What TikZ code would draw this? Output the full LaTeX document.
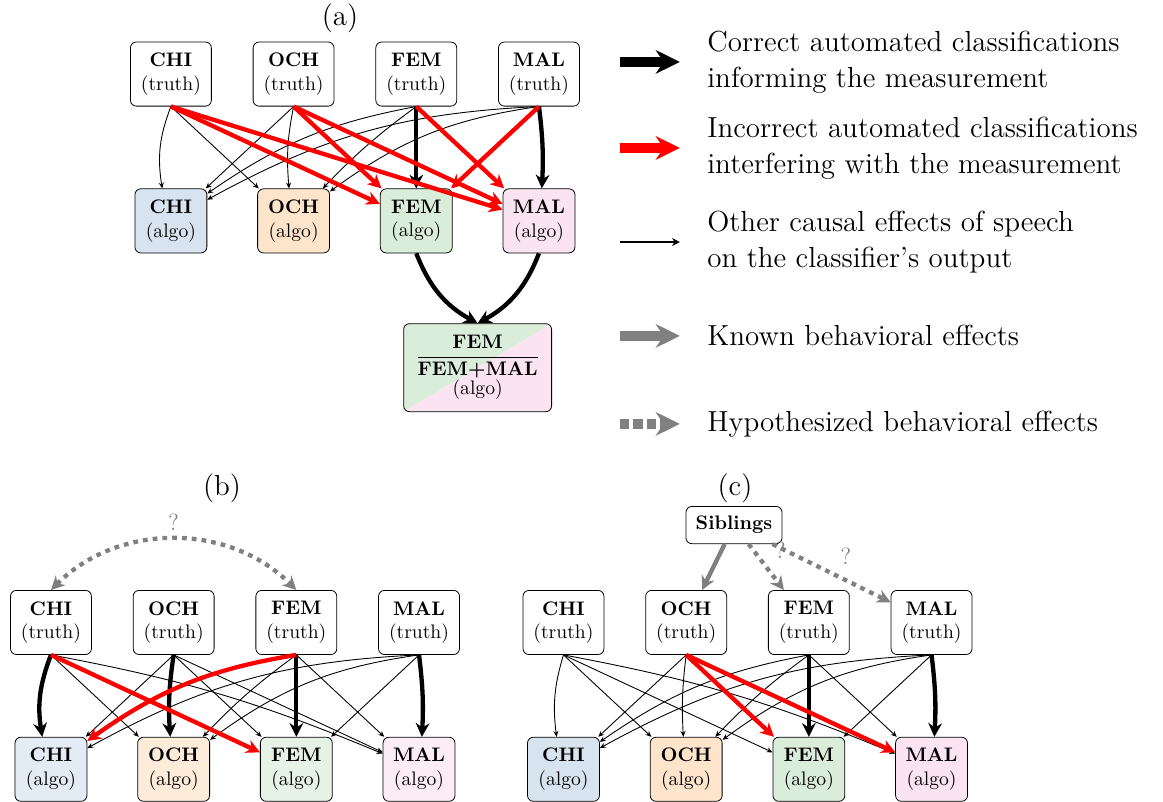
\documentclass[tikz,border=0pt]{standalone}
\usepackage{amsmath}
\usepackage{xcolor}
\usepackage{tikz}
\usetikzlibrary{arrows.meta,positioning,calc}

\definecolor{chicol}{RGB}{215,228,240}
\definecolor{ochcol}{RGB}{253,228,203}
\definecolor{femcol}{RGB}{218,237,218}
\definecolor{malcol}{RGB}{251,228,241}
\definecolor{effgray}{RGB}{128,128,128}
\newcommand{\legfont}{\fontsize{14.8pt}{18.4pt}\selectfont}

\begin{document}
\begin{tikzpicture}[
    truthbox/.style={rectangle, draw, rounded corners=3pt, align=center, inner sep=1pt, minimum width=41.3pt, minimum height=32.7pt},
    algobox/.style={truthbox, fill=#1, minimum width=36.7pt},
    ratiobox/.style={truthbox, minimum width=75.5pt, minimum height=44.9pt, path picture={
        \fill[femcol] (path picture bounding box.north west) -- (path picture bounding box.north east) -- (path picture bounding box.south west) -- cycle;
        \fill[malcol] (path picture bounding box.north east) -- (path picture bounding box.south east) -- (path picture bounding box.south west) -- cycle;}},
    sibbox/.style={rectangle, draw, rounded corners=3pt, inner sep=5pt, font=\bfseries},
    otherarr/.style={-{Stealth[length=3pt,width=2.6pt]}, line width=0.45pt},
    rightarr/.style={-{Stealth[length=7pt,width=7pt]}, line width=2.2pt},
    wrongarr/.style={rightarr, red},
    knownarr/.style={rightarr, effgray},
    hypoarr/.style={knownarr, dash pattern=on 2.4pt off 2.6pt},
    legarr/.style={line width=4.8pt, -{Stealth[length=12.3pt,width=12pt]}},
    legtext/.style={align=left, inner sep=0pt, font=\legfont},
    qmark/.style={text=effgray, font=\large},
    node distance=41.8pt and 20.9pt
]
    \useasboundingbox (0,0) rectangle (593.4pt,-408.7pt);

    % (a) measurement
    \node[font=\legfont] (a-lab) at (173.5pt,-9.2pt) {(a)};
    \node[truthbox] (a-t0) at (87.2pt,-37.8pt) {\textbf{CHI}\\(truth)};
    \node[truthbox, right=of a-t0] (a-t1) {\textbf{OCH}\\(truth)};
    \node[truthbox, right=of a-t1] (a-t2) {\textbf{FEM}\\(truth)};
    \node[truthbox, right=of a-t2] (a-t3) {\textbf{MAL}\\(truth)};
    \node[algobox=chicol, below=of a-t0] (a-a0) {\textbf{CHI}\\(algo)};
    \node[algobox=ochcol, below=of a-t1] (a-a1) {\textbf{OCH}\\(algo)};
    \node[algobox=femcol, below=of a-t2] (a-a2) {\textbf{FEM}\\(algo)};
    \node[algobox=malcol, below=of a-t3] (a-a3) {\textbf{MAL}\\(algo)};
    \coordinate (a-mid) at ($(a-a2.south)!0.5!(a-a3.south)$);
    \node[ratiobox, below=35.7pt of a-mid] (a-ratio) {$\displaystyle\frac{\textbf{FEM}}{\textbf{FEM+MAL}}$\\(algo)};

    \foreach \i/\j/\bn/\kind in {0/0/-15/otherarr, 0/1/0/otherarr, 1/0/0/otherarr, 1/1/-8/otherarr,
        2/0/-12/otherarr, 2/1/-5/otherarr, 3/0/-13/otherarr, 3/1/-14/otherarr,
        2/2/0/rightarr, 3/3/5/rightarr,
        0/2/0/wrongarr, 0/3/0/wrongarr, 1/2/0/wrongarr, 1/3/0/wrongarr, 2/3/0/wrongarr, 3/2/0/wrongarr}
        \draw[\kind] (a-t\i.south) to[bend left=\bn] (a-a\j);
    \draw[rightarr] (a-a2.south) to[bend right=20] (a-ratio.north);
    \draw[rightarr] (a-a3.south) to[bend left=20] (a-ratio.north);

    % Legend
    \coordinate (l1s) at (316.3pt,-31.6pt);
    \coordinate (l2s) at (316.3pt,-75.5pt);
    \coordinate (l3s) at (316.3pt,-123.5pt);
    \coordinate (l4s) at (316.3pt,-171.4pt);
    \coordinate (l5s) at (316.3pt,-216.3pt);
    \foreach \r in {1,...,5}
        \coordinate[right=30.6pt of l\r s] (l\r e);
    \draw[rightarr, legarr] (l1s) -- (l1e);
    \draw[wrongarr, legarr] (l2s) -- (l2e);
    \draw[otherarr, line width=0.6pt, -{Stealth[length=4pt,width=4pt]}] (l3s) -- (l3e);
    \draw[knownarr, legarr] (l4s) -- (l4e);
    \draw[knownarr, legarr, dash pattern=on 4.8pt off 2pt] (l5s) -- (l5e);
    \node[legtext, right=13.8pt of l1e] (l1t) {Correct automated classifications\\informing the measurement};
    \node[legtext, right=13.8pt of l2e] (l2t) {Incorrect automated classifications\\interfering with the measurement};
    \node[legtext, right=13.8pt of l3e] (l3t) {Other causal effects of speech\\on the classifier's output};
    \node[legtext, right=13.8pt of l4e] (l4t) {Known behavioral effects};
    \node[legtext, right=13.8pt of l5e] (l5t) {Hypothesized behavioral effects};

    % (b) speaker interaction
    \node[font=\legfont] (b-lab) at (113.3pt,-249pt) {(b)};
    \node[truthbox] (b-t0) at (26pt,-317.6pt) {\textbf{CHI}\\(truth)};
    \node[truthbox, right=of b-t0] (b-t1) {\textbf{OCH}\\(truth)};
    \node[truthbox, right=of b-t1] (b-t2) {\textbf{FEM}\\(truth)};
    \node[truthbox, right=of b-t2] (b-t3) {\textbf{MAL}\\(truth)};
    \node[algobox=chicol!70, below=of b-t0] (b-a0) {\textbf{CHI}\\(algo)};
    \node[algobox=ochcol!70, below=of b-t1] (b-a1) {\textbf{OCH}\\(algo)};
    \node[algobox=femcol!70, below=of b-t2] (b-a2) {\textbf{FEM}\\(algo)};
    \node[algobox=malcol!70, below=of b-t3] (b-a3) {\textbf{MAL}\\(algo)};

    \foreach \i/\j/\bn/\kind in {0/1/0/otherarr, 0/3/6/otherarr, 1/0/0/otherarr, 1/2/0/otherarr, 1/3/0/otherarr,
        2/1/-5/otherarr, 2/3/0/otherarr, 3/0/-13/otherarr, 3/1/-14/otherarr, 3/2/0/otherarr,
        0/0/-15/rightarr, 1/1/-6/rightarr, 2/2/0/rightarr, 3/3/5/rightarr,
        0/2/0/wrongarr, 2/0/-13/wrongarr}
        \draw[\kind] (b-t\i.south) to[bend left=\bn] (b-a\j);
    \draw[hypoarr, {Stealth[length=7pt,width=7pt]}-{Stealth[length=7pt,width=7pt]}] (b-t0.north) to[bend left=45] node[qmark, above] {?} (b-t2.north);

    % (c) siblings
    \node[font=\legfont] (c-lab) at (375pt,-249pt) {(c)};
    \node[sibbox] (c-sib) at (374.5pt,-267.9pt) {Siblings};
    \node[truthbox] (c-t0) at (287.5pt,-317.6pt) {\textbf{CHI}\\(truth)};
    \node[truthbox, right=of c-t0] (c-t1) {\textbf{OCH}\\(truth)};
    \node[truthbox, right=of c-t1] (c-t2) {\textbf{FEM}\\(truth)};
    \node[truthbox, right=of c-t2] (c-t3) {\textbf{MAL}\\(truth)};
    \node[algobox=chicol, below=of c-t0] (c-a0) {\textbf{CHI}\\(algo)};
    \node[algobox=ochcol, below=of c-t1] (c-a1) {\textbf{OCH}\\(algo)};
    \node[algobox=femcol, below=of c-t2] (c-a2) {\textbf{FEM}\\(algo)};
    \node[algobox=malcol, below=of c-t3] (c-a3) {\textbf{MAL}\\(algo)};

    \foreach \i/\j/\bn/\kind in {0/0/-12/otherarr, 0/1/0/otherarr, 0/2/0/otherarr, 0/3/6/otherarr, 1/0/0/otherarr, 1/1/-5/otherarr,
        2/0/-12/otherarr, 2/1/-5/otherarr, 2/3/0/otherarr, 3/0/-13/otherarr, 3/1/-14/otherarr, 3/2/0/otherarr,
        2/2/0/rightarr, 3/3/5/rightarr, 1/2/0/wrongarr, 1/3/0/wrongarr}
        \draw[\kind] (c-t\i.south) to[bend left=\bn] (c-a\j);
    \draw[knownarr] (c-sib) -- (c-t1);
    \draw[hypoarr] (c-sib) -- node[qmark, above right] {?} (c-t2);
    \draw[hypoarr] (c-sib) -- node[qmark, above right] {?} (c-t3);
\end{tikzpicture}
\end{document}
